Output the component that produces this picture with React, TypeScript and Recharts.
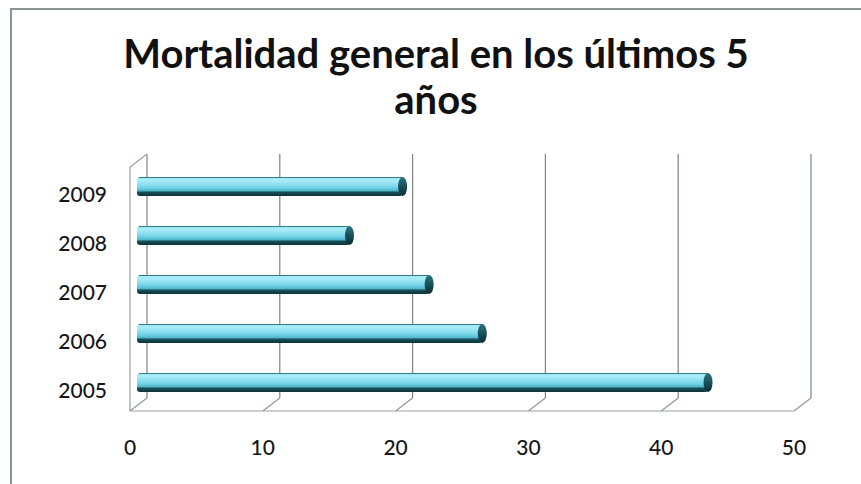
import { BarChart, Bar, XAxis, YAxis, CartesianGrid } from 'recharts'

const YEARS = ['2009', '2008', '2007', '2006', '2005']
const DEATHS = [20, 16, 22, 26, 43]
const X_TICKS = [0, 10, 20, 30, 40, 50]
const X_MAX = 50

const data = YEARS.map((year, i) => ({ year, value: DEATHS[i] }))

// layout of the fake 3D box (pixels)
const W = 861
const H = 484
const PLOT_LEFT = 137
const PLOT_RIGHT = 801
const PLOT_TOP = 162
const PLOT_BOTTOM = 407
const BACK_DX = 10
const FRONT_DX = -7
const BACK_TOP = 154
const BACK_FLOOR = 398
const FRONT_FLOOR = 411
const FRONT_TOP = 167
const STEP = (PLOT_RIGHT - PLOT_LEFT) / (X_TICKS.length - 1)

const FONT = 'Lato, "Open Sans", sans-serif'

const GridLine = (p: any) => {
  const x = p.x1
  const first = Math.abs(x - (PLOT_LEFT + BACK_DX)) < 1
  const last = Math.abs(x - (PLOT_RIGHT + BACK_DX)) < 1
  const fx = x - BACK_DX + FRONT_DX
  return (
    <g stroke="#7c8484" strokeWidth={1.2} fill="none">
      <line x1={x} y1={BACK_TOP} x2={x} y2={BACK_FLOOR} />
      <line x1={x} y1={BACK_FLOOR} x2={fx} y2={FRONT_FLOOR} stroke="#8f9898" />
      {!last && <line x1={fx} y1={FRONT_FLOOR} x2={fx + STEP} y2={FRONT_FLOOR} stroke="#98a1a1" />}
      {first && (
        <polyline points={`${fx},${FRONT_FLOOR} ${fx},${FRONT_TOP} ${x},${BACK_TOP}`} stroke="#98a1a1" />
      )}
    </g>
  )
}

const CylinderBar = (p: any) => {
  const { x, y, width, height } = p
  if (!width || width <= 0) return null
  const r = height / 2
  return (
    <g>
      <rect x={x} y={y} width={width} height={height} rx={3} ry={3} fill="url(#cyl)" />
      <line x1={x + 2} y1={y + 0.5} x2={x + width} y2={y + 0.5} stroke="#2f7e8a" strokeWidth={1} />
      <ellipse cx={x + width} cy={y + r} rx={4.5} ry={r} fill="url(#cap)" />
    </g>
  )
}

const YTick = (p: any) => (
  <text x={p.x} y={p.y + 8} dy="0.35em" textAnchor="end" fill="#161616" fontSize={21} fontFamily={FONT} fontWeight={500}>
    {p.payload.value}
  </text>
)

const XTick = (p: any) => (
  <text x={p.x + FRONT_DX} y={455} textAnchor="middle" fill="#161616" fontSize={21} fontFamily={FONT} fontWeight={500}>
    {p.payload.value}
  </text>
)

export default function App() {
  const vPoints = X_TICKS.map(t => PLOT_LEFT + (t / X_MAX) * (PLOT_RIGHT - PLOT_LEFT) + BACK_DX)

  return (
    <div style={{ position: 'absolute', left: 0, top: 0, width: W, height: H, background: '#fff', overflow: 'hidden' }}>
      <div style={{
        position: 'absolute', left: 10, top: 8, width: W - 10, height: H - 8,
        borderTop: '2px solid #8a9494', borderLeft: '2px solid #8a9494',
      }} />
      <div style={{
        position: 'absolute', left: 11, top: 30, width: 850, textAlign: 'center',
        fontFamily: FONT, fontWeight: 700, fontSize: 40, lineHeight: '46px', color: '#111',
      }}>
        Mortalidad general en los últimos 5<br />años
      </div>
      <div style={{ position: 'absolute', left: 0, top: 0 }}>
        <BarChart
          width={W} height={H} data={data} layout="vertical"
          margin={{ top: PLOT_TOP, right: W - PLOT_RIGHT, bottom: 0, left: 0 }}
          barCategoryGap={15}
        >
          <defs>
            <linearGradient id="cyl" x1="0" y1="0" x2="0" y2="1">
              <stop offset="0%" stopColor="#9fe6f3" />
              <stop offset="20%" stopColor="#a9ecf7" />
              <stop offset="55%" stopColor="#74d3e8" />
              <stop offset="72%" stopColor="#4fb6cc" />
              <stop offset="80%" stopColor="#164f58" />
              <stop offset="100%" stopColor="#0c3238" />
            </linearGradient>
            <linearGradient id="cap" x1="0" y1="0" x2="0" y2="1">
              <stop offset="0%" stopColor="#2b7480" />
              <stop offset="100%" stopColor="#0a2c31" />
            </linearGradient>
          </defs>
          <CartesianGrid horizontal={false} verticalPoints={vPoints} vertical={(p: any) => <GridLine key={p.key} {...p} />} />
          <XAxis
            type="number" domain={[0, X_MAX]} ticks={X_TICKS}
            axisLine={false} tickLine={false} height={H - PLOT_BOTTOM}
            tick={<XTick />} interval={0}
          />
          <YAxis
            type="category" dataKey="year" width={PLOT_LEFT}
            axisLine={false} tickLine={false} tickSize={0} tickMargin={30}
            tick={<YTick />}
          />
          <Bar dataKey="value" barSize={19} shape={<CylinderBar />} isAnimationActive={false} />
        </BarChart>
      </div>
    </div>
  )
}
